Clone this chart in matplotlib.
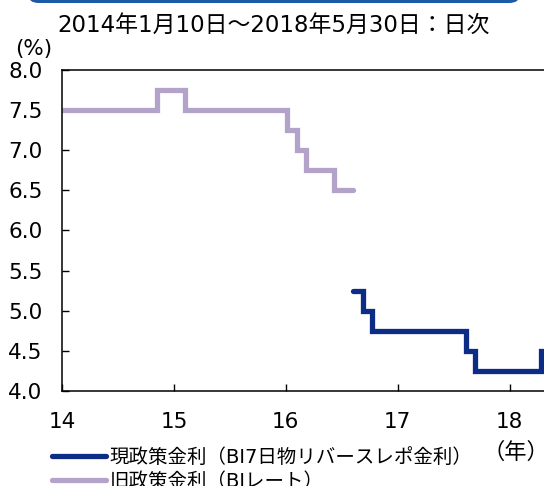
import matplotlib
matplotlib.use('Agg')
import matplotlib.pyplot as plt
from matplotlib.patches import FancyBboxPatch

plt.rcParams['font.family'] = ['DejaVu Sans', 'Noto Sans CJK JP']

# decimal years (14 = 2014)
old_x = [14.027, 14.88, 15.13, 16.04, 16.13, 16.21, 16.46, 16.63]
old_y = [7.50, 7.75, 7.50, 7.25, 7.00, 6.75, 6.50, 6.50]

new_x = [16.63, 16.72, 16.80, 17.64, 17.72, 18.31, 18.38, 18.41]
new_y = [5.25, 5.00, 4.75, 4.50, 4.25, 4.50, 4.75, 4.75]

xtick_pos = [14.027, 15.027, 16.027, 17.027, 18.027]
xtick_labels = ['14', '15', '16', '17', '18']
yticks = [4.0, 4.5, 5.0, 5.5, 6.0, 6.5, 7.0, 7.5, 8.0]

new_label = '現政策金利（BI7日物リバースレポ金利）'
old_label = '旧政策金利（BIレート）'
title = '2014年1月10日～2018年5月30日：日次'

W, H = 544, 486
fig = plt.figure(figsize=(W / 100, H / 100), dpi=100)

# header banner, mostly off the top of the picture
banner = FancyBboxPatch((28 / W, 1 - 3 / H), 492 / W, 40 / H,
                        boxstyle='round,pad=0,rounding_size=0.02',
                        transform=fig.transFigure, facecolor='#1b5aa6',
                        edgecolor='none', mutation_aspect=H / W)
fig.patches.append(banner)

ax = fig.add_axes([62 / W, (H - 391) / H, 495 / W, 321 / H])

l1, = ax.step(new_x, new_y, where='post', color='#0d2c85', lw=3.8,
              solid_capstyle='round', solid_joinstyle='miter', label=new_label)
l2, = ax.step(old_x, old_y, where='post', color='#b3a3ca', lw=3.8,
              solid_capstyle='round', solid_joinstyle='miter', label=old_label)

ax.set_xlim(14.027, 18.45)
ax.set_ylim(4.0, 8.0)
ax.set_xticks(xtick_pos)
ax.set_xticklabels(xtick_labels)
ax.set_yticks(yticks)
ax.set_yticklabels([f'{v:.1f}' for v in yticks])
ax.tick_params(direction='in', length=5, width=1, labelsize=15.5)
ax.tick_params(axis='x', pad=15)
ax.tick_params(axis='y', pad=14)
for s in ax.spines.values():
    s.set_linewidth(1.1)

fig.text(274 / W, 1 - 25 / H, title, ha='center', va='center', fontsize=16.5)
fig.text(34 / W, 1 - 49 / H, '(%)', ha='center', va='center', fontsize=15.5)
fig.text(516 / W, 1 - 452 / H, '（年）', ha='center', va='center', fontsize=16)

fig.legend(handles=[l1, l2], loc='upper left', bbox_to_anchor=(52 / W, 1 - 448 / H),
           frameon=False, fontsize=14, handlelength=2.8, handletextpad=0.15,
           labelspacing=0.25, borderaxespad=0, borderpad=0)

fig.savefig('out.png', dpi=100)
